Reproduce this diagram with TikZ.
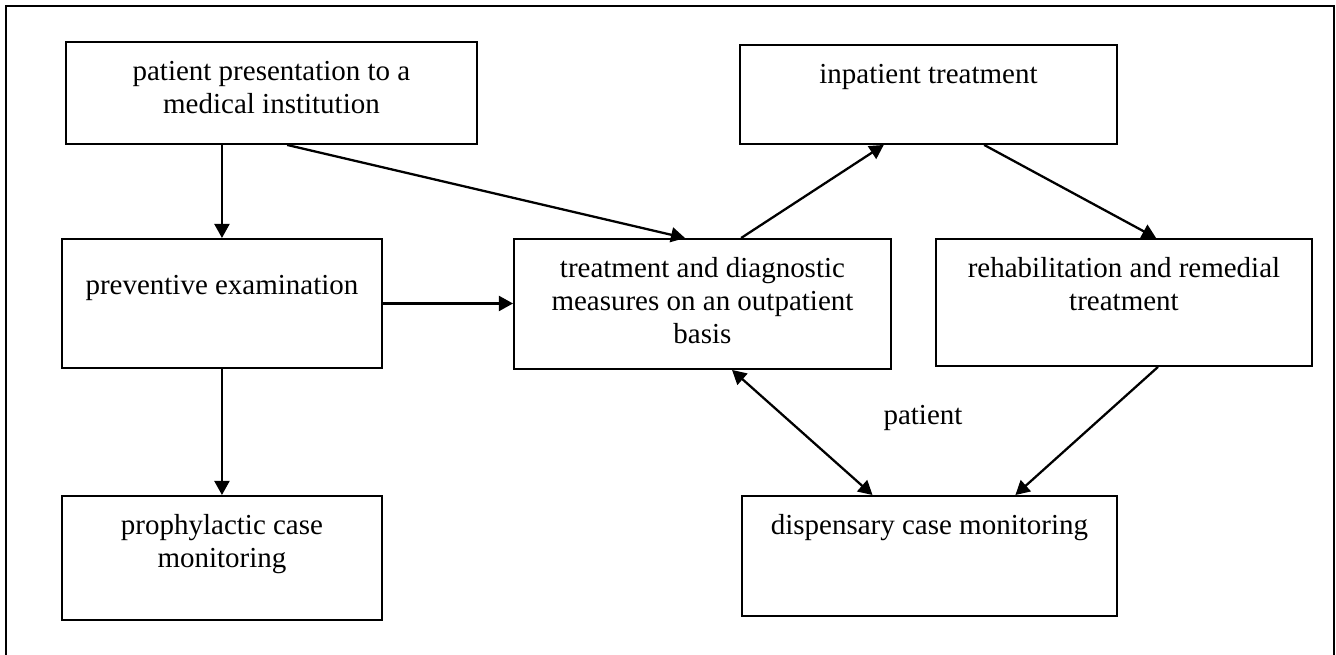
\documentclass[tikz,border=0pt]{standalone}
\usepackage{fontspec}
\setmainfont{Liberation Serif}
\usetikzlibrary{arrows.meta,calc}

\newlength\pxu
\setlength\pxu{0.02cm}
% box text: [top pad]{width}{height}{text}, all in pixels
\newcommand{\boxtxt}[4][16]{\parbox[t][#3\pxu][t]{#2\pxu}{\centering\vspace*{#1\pxu}\strut #4}}

\begin{document}
\begin{tikzpicture}[
  x=0.02cm,y=-0.02cm,
  stage/.style={draw,line width=1.1pt,inner sep=0pt,anchor=north west,font=\fontsize{16.5}{18.7}\selectfont},
  link/.style={line width=1.3pt,>={Triangle[length=8pt,width=8.5pt]},->}
]
  \useasboundingbox (0,0) rectangle (1336,654);
  \clip (0,0) rectangle (1336,654);
  \draw[line width=1.4pt] (6,6) rectangle (1334,670);

  \node[stage] (present) at (65,41) {\boxtxt{411}{102}{patient presentation to a\\ medical institution}};
  \node[stage] (inpat) at (739,44) {\boxtxt{377}{99}{inpatient treatment}};
  \node[stage] (prevent) at (61,238) {\boxtxt[33]{320}{129}{preventive examination}};
  \node[stage] (outpat) at (513,238) {\boxtxt{377}{130}{treatment and diagnostic\\ measures on an outpatient\\ basis}};
  \node[stage] (rehab) at (935,238) {\boxtxt{376}{127}{rehabilitation and remedial\\ treatment}};
  \node[stage] (prophyl) at (61,495) {\boxtxt{320}{124}{prophylactic case\\ monitoring}};
  \node[stage] (dispens) at (741,495) {\boxtxt{375}{120}{dispensary case monitoring}};
  \node[font=\fontsize{16.5}{18.7}\selectfont] (patlbl) at (923,418) {patient};

  \draw[link] (prevent.north |- present.south) -- (prevent.north);
  \draw[link] ($(present.south west)!0.538!(present.south east)$) -- ($(outpat.north west)!0.454!(outpat.north east)$);
  \draw[link] (prevent.east) -- (prevent.east -| outpat.west);
  \draw[link] (prevent.south) -- (prophyl.north);
  \draw[link] ($(outpat.north west)!0.602!(outpat.north east)$) -- ($(inpat.south west)!0.382!(inpat.south east)$);
  \draw[link] ($(inpat.south west)!0.647!(inpat.south east)$) -- ($(rehab.north west)!0.585!(rehab.north east)$);
  \draw[link] ($(rehab.south west)!0.59!(rehab.south east)$) -- ($(dispens.north west)!0.728!(dispens.north east)$);
  \draw[link,<->] ($(outpat.south west)!0.578!(outpat.south east)$) -- ($(dispens.north west)!0.349!(dispens.north east)$);
\end{tikzpicture}
\end{document}
